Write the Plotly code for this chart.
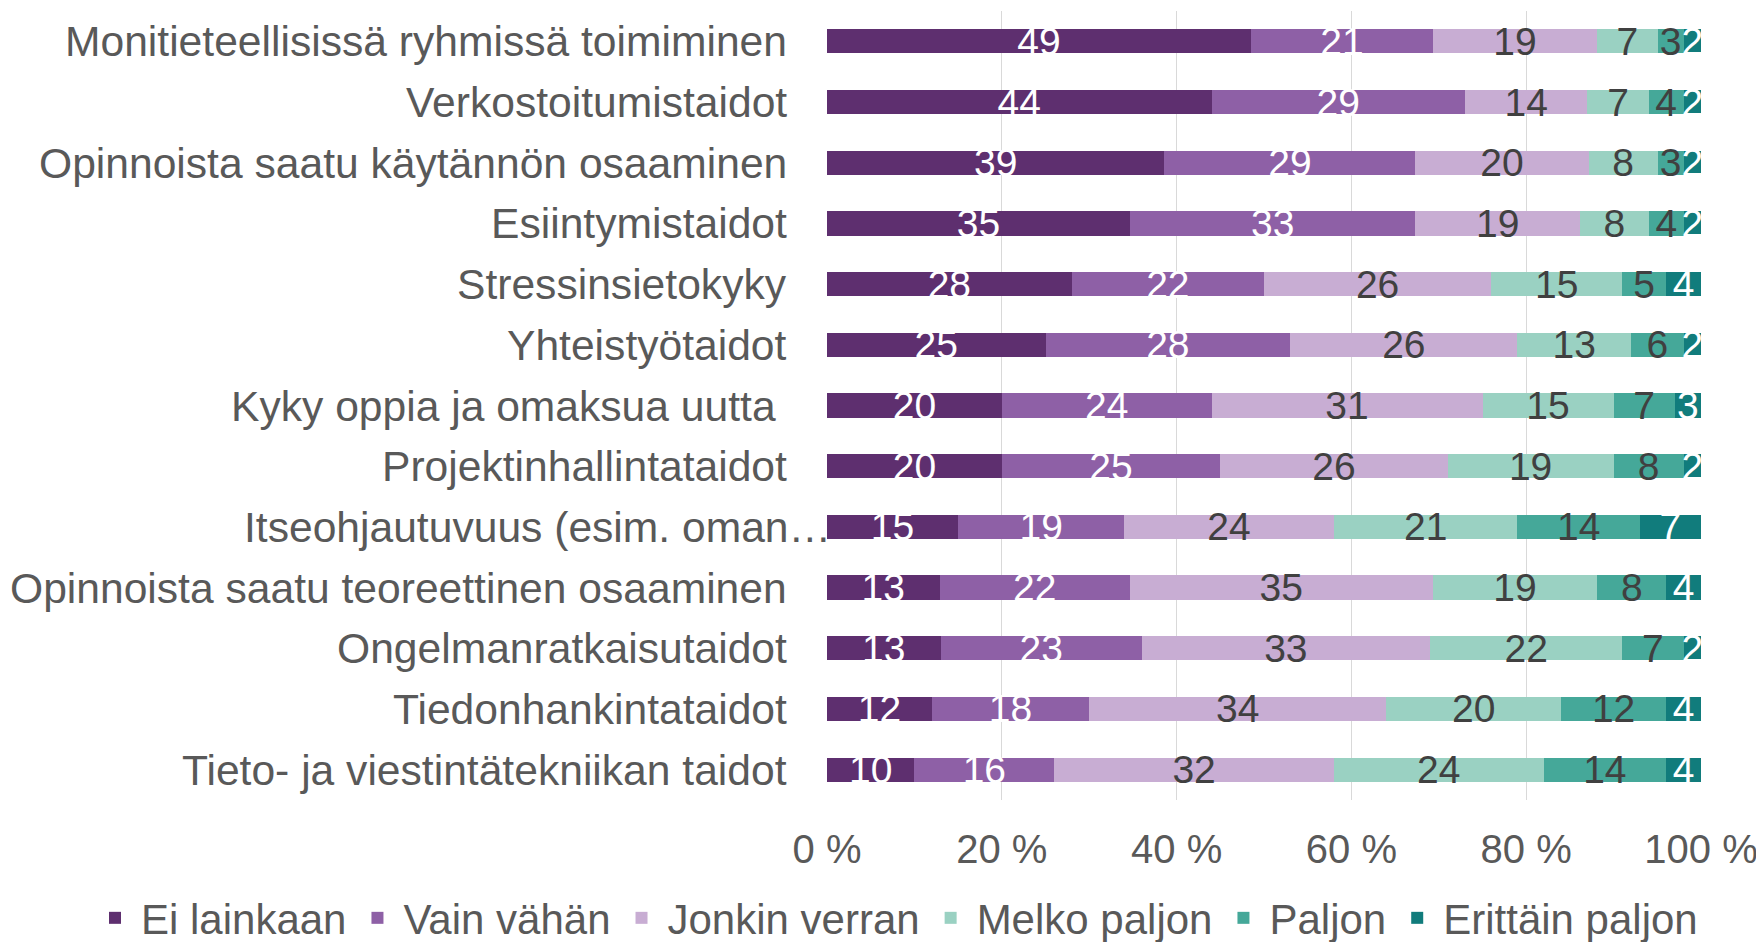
import plotly.graph_objects as go

categories = [
    "Monitieteellisissä ryhmissä toimiminen",
    "Verkostoitumistaidot",
    "Opinnoista saatu käytännön osaaminen",
    "Esiintymistaidot",
    "Stressinsietokyky",
    "Yhteistyötaidot",
    "Kyky oppia ja omaksua uutta ",
    "Projektinhallintataidot",
    "Itseohjautuvuus (esim. oman…",
    "Opinnoista saatu teoreettinen osaaminen",
    "Ongelmanratkaisutaidot",
    "Tiedonhankintataidot",
    "Tieto- ja viestintätekniikan taidot",
]

series_names = ["Ei lainkaan", "Vain vähän", "Jonkin verran", "Melko paljon", "Paljon", "Erittäin paljon"]

ei_lainkaan =     [49, 44, 39, 35, 28, 25, 20, 20, 15, 13, 13, 12, 10]
vain_vahan =      [21, 29, 29, 33, 22, 28, 24, 25, 19, 22, 23, 18, 16]
jonkin_verran =   [19, 14, 20, 19, 26, 26, 31, 26, 24, 35, 33, 34, 32]
melko_paljon =    [7, 7, 8, 8, 15, 13, 15, 19, 21, 19, 22, 20, 24]
paljon =          [3, 4, 3, 4, 5, 6, 7, 8, 14, 8, 7, 12, 14]
erittain_paljon = [2, 2, 2, 2, 4, 2, 3, 2, 7, 4, 2, 4, 4]

series_values = [ei_lainkaan, vain_vahan, jonkin_verran, melko_paljon, paljon, erittain_paljon]

tick_vals = [0, 20, 40, 60, 80, 100]
tick_text = ["0 %", "20 %", "40 %", "60 %", "80 %", "100 %"]

colors = ["#5E2F6F", "#8E60A6", "#C8ADD3", "#9AD1C2", "#45A899", "#117C7C"]
text_colors = ["#FFFFFF", "#FFFFFF", "#404040", "#404040", "#404040", "#FFFFFF"]

FONT = "Liberation Sans, Arial, sans-serif"
LABEL_COLOR = "#595959"

fig = go.Figure()
for name, vals, c, tc in zip(series_names, series_values, colors, text_colors):
    fig.add_trace(go.Bar(
        y=categories,
        x=vals,
        name=name,
        orientation="h",
        marker=dict(color=c, line=dict(width=0)),
        text=[str(v) for v in vals],
        textposition="inside",
        insidetextanchor="middle",
        textangle=0,
        constraintext="none",
        insidetextfont=dict(color=tc, size=39, family=FONT),
        hoverinfo="x+y+name",
    ))

# category labels as annotations (the truncated label overflows to the axis like in the source)
label_shift = {c: (6 if c.endswith("…") else -38) for c in categories}
for c in categories:
    fig.add_annotation(
        x=0, xref="paper", y=c, yref="y",
        text=c.replace(" ", "\u00a0") if c.endswith(" ") else c,
        showarrow=False, xanchor="right", yanchor="middle",
        xshift=label_shift[c],
        font=dict(size=42.6, color=LABEL_COLOR, family=FONT),
    )

fig.update_layout(
    barmode="stack",
    barnorm="percent",
    bargap=0.6,
    width=1756,
    height=934,
    margin=dict(l=819, r=63, t=3, b=142, autoexpand=False),
    paper_bgcolor="white",
    plot_bgcolor="white",
    font=dict(family=FONT, size=42, color=LABEL_COLOR),
    uniformtext=dict(minsize=39, mode="show"),
    showlegend=True,
    legend=dict(
        orientation="h",
        xref="paper",
        yref="paper",
        x=-0.8444,
        xanchor="left",
        y=-0.1496,
        yanchor="middle",
        font=dict(size=42, color=LABEL_COLOR, family=FONT),
        traceorder="normal",
        itemwidth=42,
        tracegroupgap=0,
    ),
    xaxis=dict(
        range=[0, 100],
        tickvals=tick_vals,
        ticktext=tick_text,
        showgrid=True,
        gridcolor="#D9D9D9",
        gridwidth=1.3,
        zeroline=False,
        showline=False,
        ticks="",
        ticklabelstandoff=22,
        tickfont=dict(size=40, color=LABEL_COLOR),
        fixedrange=True,
    ),
    yaxis=dict(
        categoryorder="array",
        categoryarray=categories,
        autorange="reversed",
        showgrid=False,
        zeroline=False,
        showline=False,
        ticks="",
        showticklabels=False,
        fixedrange=True,
    ),
)

fig.write_html("out.html")
